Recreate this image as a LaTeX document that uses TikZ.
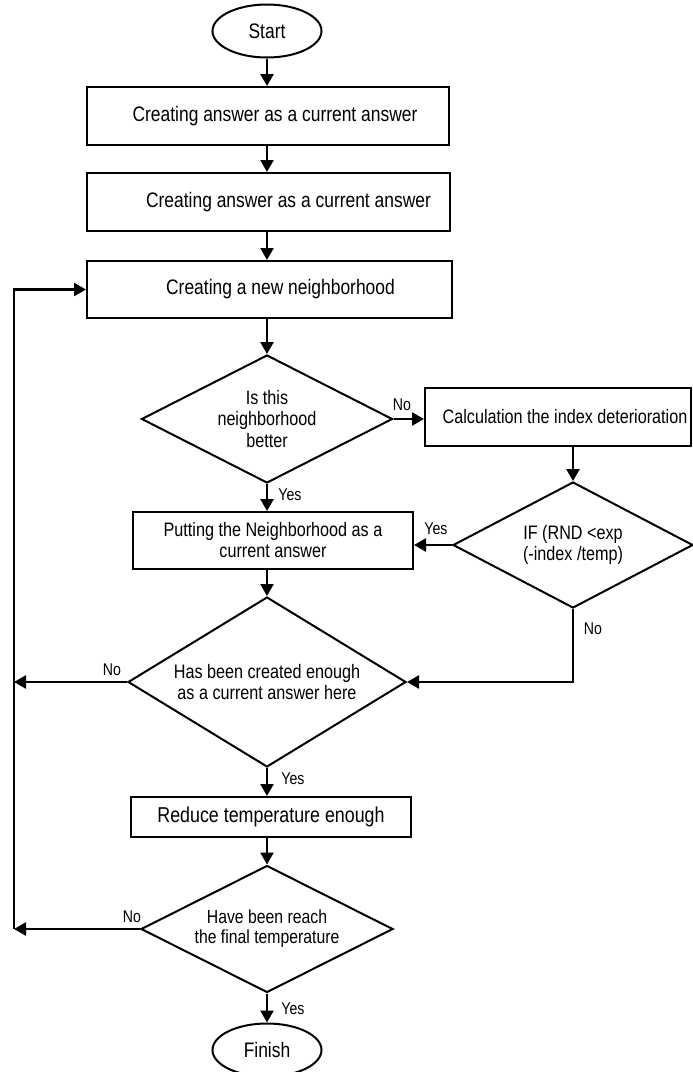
\documentclass[tikz,border=0pt]{standalone}
\usepackage{fontspec}
\newfontfamily\nar[FakeStretch=0.83]{Liberation Sans}
\usetikzlibrary{shapes.geometric,arrows.meta}
\tikzset{
  box/.style={draw, line width=2pt, rectangle, inner sep=0pt, align=center, font=\nar\fontsize{21}{23}\selectfont},
  dia/.style={draw, line width=2pt, diamond, aspect=2, inner sep=0pt, align=center, font=\nar\fontsize{19.5}{21.5}\selectfont},
  term/.style={draw, line width=2pt, ellipse, inner sep=0pt, font=\nar\fontsize{21}{23}\selectfont},
  arr/.style={line width=2.5pt, -{Triangle[length=12pt,width=13pt]}},
  lbl/.style={inner sep=0pt, font=\nar\fontsize{17}{19}\selectfont},
}
\begin{document}
\begin{tikzpicture}[x=1pt,y=-1pt]
\useasboundingbox (0,0) rectangle (693,1072);
\coordinate (col) at (267,0);
\coordinate (lx) at (14,0);
% nodes
\node[term, minimum width=109pt, minimum height=53pt] (start) at (267,31) {Start};
\node[box, minimum width=362pt, minimum height=58pt] (b1) at (268,116) {\hspace*{14pt}Creating answer as a current answer};
\node[box, minimum width=363pt, minimum height=58pt] (b2) at (268.5,202) {\hspace*{40pt}Creating answer as a current answer};
\node[box, minimum width=365pt, minimum height=57pt] (b3) at (269.5,289.5) {\hspace*{22pt}Creating a new neighborhood};
\node[dia, minimum width=251pt, minimum height=128pt] (d1) at (267,419) {Is this\\neighborhood\\better};
\node[box, font=\nar\fontsize{19.5}{21.5}\selectfont, minimum width=266pt, minimum height=58pt] (calc) at (558,417) {\hspace*{14pt}Calculation the index deterioration};
\node[dia, minimum width=240pt, minimum height=126pt] (d2) at (573,545) {IF (RND <exp\\(-index /temp)};
\node[box, font=\nar\fontsize{19.5}{21}\selectfont, minimum width=280pt, minimum height=57pt] (b4) at (273,540.5) {Putting the Neighborhood as a\\current answer};
\node[dia, minimum width=278pt, minimum height=170pt] (d3) at (267,682) {Has been created enough\\as a current answer here};
\node[box, font=\nar\fontsize{21.5}{23}\selectfont, minimum width=280pt, minimum height=40pt] (b5) at (271,817) {Reduce temperature enough};
\node[dia, font=\nar\fontsize{19}{20}\selectfont, minimum width=252pt, minimum height=127pt] (d4) at (267,929) {Have been reach\\the final temperature};
\node[term, minimum width=109pt, minimum height=53pt] (finish) at (267,1050) {Finish};
% main column arrows
\draw[arr] (col |- start.south) -- (col |- b1.north);
\draw[arr] (col |- b1.south) -- (col |- b2.north);
\draw[arr] (col |- b2.south) -- (col |- b3.north);
\draw[arr] (col |- b3.south) -- (d1.north);
\draw[arr] (d1.south) -- (col |- b4.north);
\draw[arr] (col |- b4.south) -- (d3.north);
\draw[arr] (d3.south) -- (col |- b5.north);
\draw[arr] (col |- b5.south) -- (d4.north);
\draw[arr] (d4.south) -- (finish.north);
% side branch
\draw[arr] (d1.east) -- (d1.east -| calc.west);
\draw[arr] (d2.north |- calc.south) -- (d2.north);
\draw[arr] (d2.west) -- (d2.west -| b4.east);
\draw[arr] (d2.south) -- (d2.south |- d3.east) -- (d3.east);
% loop back
\draw[arr] (d3.west) -- (d3.west -| lx);
\draw[arr] (d4.west) -- (d4.west -| lx);
\draw[arr] (d4.west -| lx) -- (lx |- b3.west) -- (b3.west);
% labels
\node[lbl] (l1) at (402,405) {No};
\node[lbl] (l2) at (290,495) {Yes};
\node[lbl] (l3) at (436,529) {Yes};
\node[lbl] (l4) at (593,629) {No};
\node[lbl] (l5) at (112,670) {No};
\node[lbl] (l6) at (293,779) {Yes};
\node[lbl] (l7) at (132,917) {No};
\node[lbl] (l8) at (293,1009) {Yes};
\end{tikzpicture}
\end{document}
